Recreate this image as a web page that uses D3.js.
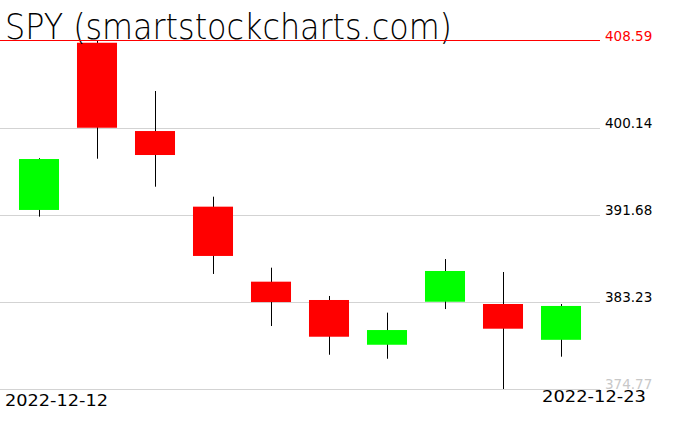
<!DOCTYPE html>
<html>
<head>
<meta charset="utf-8">
<script src="https://cdn.jsdelivr.net/npm/d3@7"></script>
<style>
body { margin: 0; background: #fff; }
svg { display: block; }
text { font-family: 'DejaVu Sans', sans-serif; }
</style>
</head>
<body>
<svg width="676" height="431"></svg>
<script>
var dates = ['2022-12-12', '2022-12-13', '2022-12-14', '2022-12-15', '2022-12-16',
             '2022-12-19', '2022-12-20', '2022-12-21', '2022-12-22', '2022-12-23'];
var opens  = [392.17, 408.42, 399.84, 392.49, 385.20, 383.42, 379.07, 383.25, 383.03, 379.55];
var highs  = [397.20, 408.59, 403.73, 393.46, 386.56, 383.81, 382.19, 387.40, 386.14, 383.03];
var lows   = [391.52, 397.15, 394.43, 385.95, 380.89, 378.10, 377.71, 382.54, 374.77, 377.91];
var closes = [397.12, 400.16, 397.51, 387.70, 383.22, 379.85, 380.50, 386.24, 380.63, 382.84];
var ticks = [374.77, 383.23, 391.68, 400.14, 408.59];
var title = 'SPY (smartstockcharts.com)';

var svg = d3.select('svg');

var x = d3.scaleBand()
    .domain(dates)
    .range([10, 590])
    .paddingInner(0.31)
    .paddingOuter(0.155);

var y = d3.scaleLinear()
    .domain([d3.min(lows), d3.max(highs)])
    .range([389, 41]);

var maxTick = ticks[ticks.length - 1];

// grid lines + labels
var grid = svg.append('g');
grid.selectAll('line')
    .data(ticks.slice(0, -1))
    .enter().append('line')
    .attr('x1', 0)
    .attr('x2', 600)
    .attr('y1', function(d) { return Math.round(y(d)) + 0.5; })
    .attr('y2', function(d) { return Math.round(y(d)) + 0.5; })
    .attr('stroke', '#d3d3d3')
    .attr('stroke-width', 1);

grid.selectAll('text')
    .data(ticks)
    .enter().append('text')
    .attr('x', 605)
    .attr('y', function(d) { return Math.round(y(d)); })
    .attr('font-size', 13.5)
    .attr('fill', function(d, i) {
        if (i === ticks.length - 1) return '#ff0000';
        if (i === 0) return '#c8c8c8';
        return '#000';
    })
    .text(function(d) { return d.toFixed(2); });

// candles
var candle = svg.append('g').selectAll('g')
    .data(dates)
    .enter().append('g');

candle.append('line')
    .attr('x1', function(d) { return Math.round(x(d) + x.bandwidth() / 2) + 0.5; })
    .attr('x2', function(d) { return Math.round(x(d) + x.bandwidth() / 2) + 0.5; })
    .attr('y1', function(d, i) { return y(highs[i]); })
    .attr('y2', function(d, i) { return y(lows[i]); })
    .attr('stroke', '#000')
    .attr('stroke-width', 1);

candle.append('rect')
    .attr('x', function(d) { return x(d); })
    .attr('width', x.bandwidth())
    .attr('y', function(d, i) { return y(Math.max(opens[i], closes[i])); })
    .attr('height', function(d, i) { return Math.abs(y(opens[i]) - y(closes[i])); })
    .attr('fill', function(d, i) { return closes[i] >= opens[i] ? '#00ff00' : '#ff0000'; });

// title
svg.append('text')
    .attr('x', 5)
    .attr('y', 39)
    .attr('font-size', 35)
    .attr('font-weight', 200)
    .attr('textLength', 447)
    .attr('lengthAdjust', 'spacingAndGlyphs')
    .text(title);

// max line (red)
svg.append('line')
    .attr('x1', 0)
    .attr('x2', 600)
    .attr('y1', Math.round(y(maxTick)) - 0.5)
    .attr('y2', Math.round(y(maxTick)) - 0.5)
    .attr('stroke', '#ff0000')
    .attr('stroke-width', 1);

// first / last date
svg.append('text')
    .attr('x', 5)
    .attr('y', 406)
    .attr('font-size', 15)
    .attr('textLength', 103)
    .attr('lengthAdjust', 'spacingAndGlyphs')
    .text(dates[0]);

svg.append('text')
    .attr('x', 542)
    .attr('y', 402)
    .attr('font-size', 15)
    .attr('textLength', 104)
    .attr('lengthAdjust', 'spacingAndGlyphs')
    .text(dates[dates.length - 1]);
</script>
</body>
</html>
